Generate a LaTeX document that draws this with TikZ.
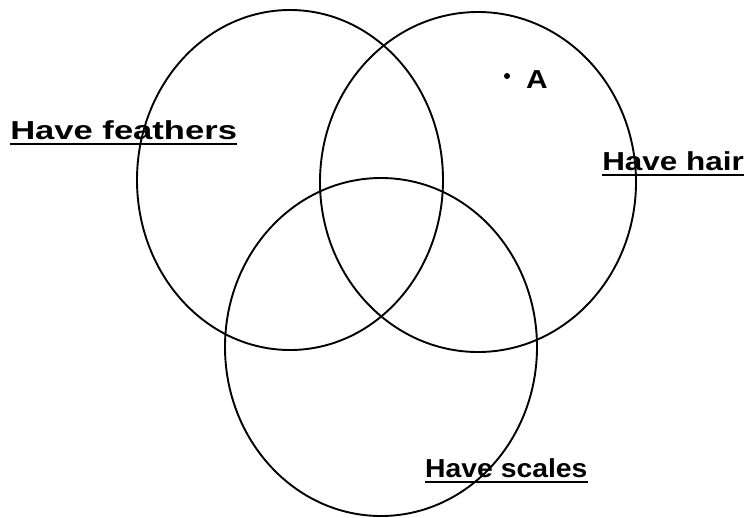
\documentclass[tikz,border=0pt]{standalone}
\usepackage{fontspec}
\setmainfont{Liberation Sans}
\begin{document}
\begin{tikzpicture}[x=1pt,y=-1pt,
  venn/.style={draw=black,line width=1.9pt},
  lbl/.style={inner sep=0pt,anchor=base west,font=\fontsize{26}{31}\selectfont\bfseries},
  uline/.style={line width=1.9pt}]
\useasboundingbox[fill=white] (0,0) rectangle (746,517);
\draw[venn] (290,180) ellipse [x radius=153, y radius=170];
\draw[venn] (478,182) ellipse [x radius=158, y radius=170];
\draw[venn] (381,347) ellipse [x radius=156, y radius=169];
\node[lbl,xscale=1.33] (feathers) at (10,139) {Have feathers};
\node[lbl,xscale=1.21] (hair) at (602,170) {Have hair};
\node[lbl,xscale=1.09] (scales) at (425,477) {Have scales};
\foreach \n in {feathers,hair,scales}
  \draw[uline] ([yshift=-5pt]\n.base west) -- ([yshift=-5pt]\n.base east);
\fill (507,76) circle (3pt);
\node[lbl,xscale=1.15] (A) at (526,88) {A};
\end{tikzpicture}
\end{document}
